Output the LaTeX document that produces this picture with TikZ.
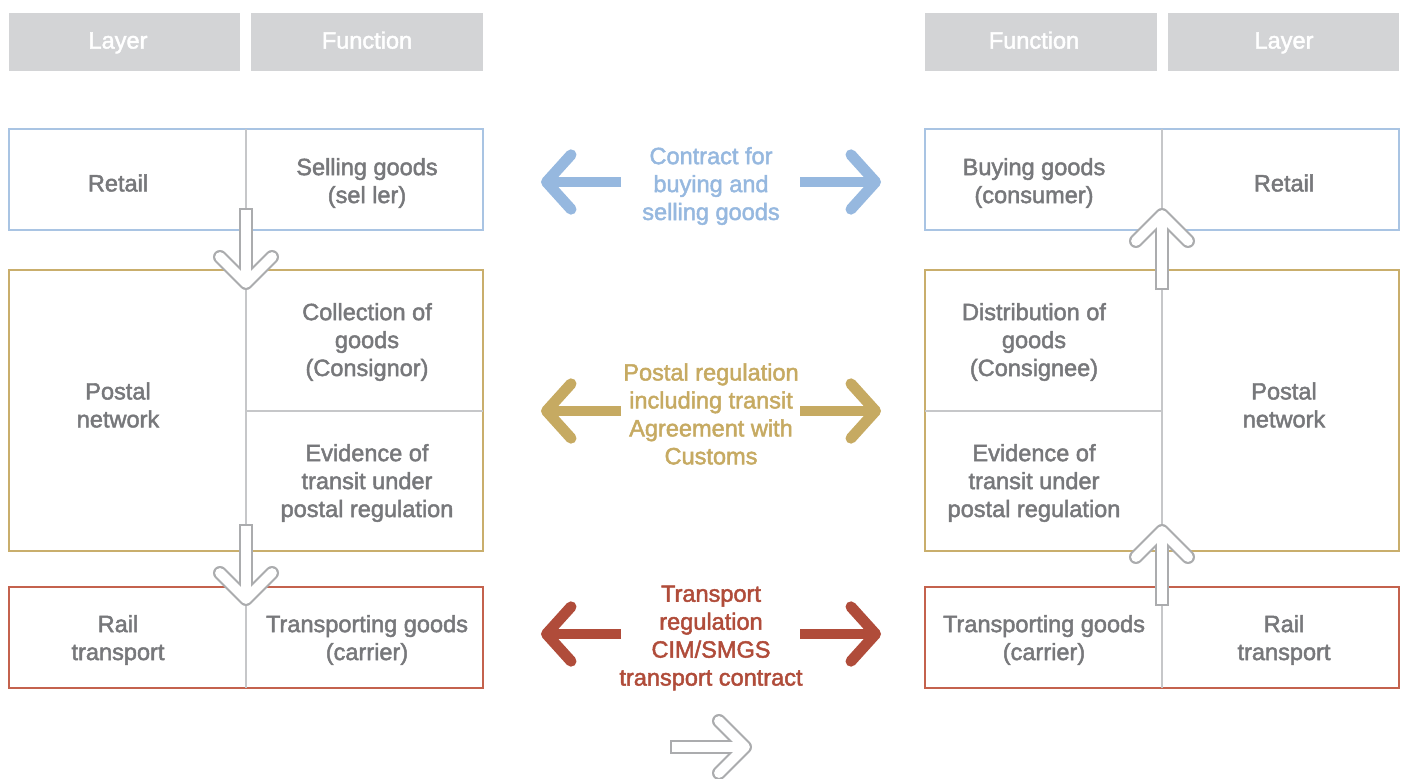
\documentclass[tikz,border=0pt]{standalone}
\usepackage{fontspec}
\setmainfont{Liberation Sans}[UprightFeatures={FakeBold=2}]
\usetikzlibrary{arrows.meta}

\definecolor{hdrgray}{HTML}{D3D4D6}
\definecolor{txtgray}{HTML}{77787B}
\definecolor{linegray}{HTML}{C6C7C9}
\definecolor{arrgray}{HTML}{ABACAE}
\definecolor{retailblue}{HTML}{A9C4E3}
\definecolor{postaltan}{HTML}{C9AE6C}
\definecolor{railred}{HTML}{C4624D}
\definecolor{bluelbl}{HTML}{96B8DF}
\definecolor{tanlbl}{HTML}{C6AA62}
\definecolor{redlbl}{HTML}{B04C3A}

\tikzset{
  txt/.style={text=txtgray, align=center, font=\fontsize{13.4}{15.9}\selectfont},
  hdrtxt/.style={text=white, text height=1.6ex, text depth=.4ex, font=\fontsize{13.4}{15.9}\selectfont},
  lbl/.style={align=center, font=\fontsize{13.4}{15.9}\selectfont},
  layerbox/.style={line width=1.5pt},
  divider/.style={draw=linegray, line width=1.3pt},
  twoway/.style={line width=6.2pt, -{Straight Barb[length=14pt, width=31pt, round]}},
  pics/hollowarrow/.style={code={
    \draw[arrgray, line width=8pt, line join=round, line cap=round] (-26,-26) -- (0,0) -- (-26,26);
    \draw[arrgray, line width=8pt] (-75,0) -- (0,0);
    \draw[white, line width=5.6pt, line join=round, line cap=round] (-26,-26) -- (0,0) -- (-26,26);
    \draw[white, line width=5.6pt] (-72.8,0) -- (0,0);
  }}
}

\begin{document}
\begin{tikzpicture}[x=0.02cm, y=-0.02cm]
  \useasboundingbox (0,0) rectangle (1407,778);

  % column headers
  \fill[hdrgray] (9,13) rectangle (240,71);
  \fill[hdrgray] (251,13) rectangle (483,71);
  \fill[hdrgray] (925,13) rectangle (1157,71);
  \fill[hdrgray] (1168,13) rectangle (1399,71);
  \node[hdrtxt] (hlayl) at (118,43) {Layer};
  \node[hdrtxt] (hfunl) at (367,43) {Function};
  \node[hdrtxt] (hfunr) at (1034,43) {Function};
  \node[hdrtxt] (hlayr) at (1284,43) {Layer};

  % layer boxes, left side
  \draw[layerbox, retailblue] (9,129) rectangle (483,230);
  \draw[layerbox, postaltan] (9,270) rectangle (483,551);
  \draw[layerbox, railred] (9,587) rectangle (483,688);
  \draw[divider] (246,411) -- (483,411);
  \draw[divider] (246,129) -- (246,688);

  % layer boxes, right side
  \draw[layerbox, retailblue] (925,129) rectangle (1399,230);
  \draw[layerbox, postaltan] (925,270) rectangle (1399,551);
  \draw[layerbox, railred] (925,587) rectangle (1399,688);
  \draw[divider] (925,411) -- (1162,411);
  \draw[divider] (1162,129) -- (1162,688);

  % texts, left side
  \node[txt] (retl) at (118,183) {Retail};
  \node[txt] (sell) at (367,183) {Selling goods\\(sel ler)};
  \node[txt] (postl) at (118,405) {Postal\\network};
  \node[txt] (coll) at (367,342) {Collection of\\goods\\(Consignor)};
  \node[txt] (evil) at (367,483) {Evidence of\\transit under\\postal regulation};
  \node[txt] (raill) at (118,640) {Rail\\transport};
  \node[txt] (trnl) at (367,640) {Transporting goods\\(carrier)};

  % texts, right side
  \node[txt] (buyr) at (1034,183) {Buying goods\\(consumer)};
  \node[txt] (retr) at (1284,183) {Retail};
  \node[txt] (disr) at (1034,342) {Distribution of\\goods\\(Consignee)};
  \node[txt] (evir) at (1034,483) {Evidence of\\transit under\\postal regulation};
  \node[txt] (postr) at (1284,405) {Postal\\network};
  \node[txt] (trnr) at (1044,640) {Transporting goods\\(carrier)};
  \node[txt] (railr) at (1284,640) {Rail\\transport};

  % agreements in the middle
  \node[lbl, text=bluelbl] (contract) at (711,186) {Contract for\\buying and\\selling goods};
  \node[lbl, text=tanlbl] (postreg) at (711,414) {Postal regulation\\including transit\\Agreement with\\Customs};
  \node[lbl, text=redlbl] (trnreg) at (711,638) {Transport\\regulation\\CIM/SMGS\\transport contract};

  \coordinate (bl0) at (621,182); \coordinate (bl1) at (541,182);
  \coordinate (br0) at (800,182); \coordinate (br1) at (881,182);
  \coordinate (tl0) at (621,411); \coordinate (tl1) at (541,411);
  \coordinate (tr0) at (800,411); \coordinate (tr1) at (881,411);
  \coordinate (rl0) at (621,634); \coordinate (rl1) at (541,634);
  \coordinate (rr0) at (800,634); \coordinate (rr1) at (881,634);
  \draw[twoway, bluelbl] (bl0) -- (bl1);
  \draw[twoway, bluelbl] (br0) -- (br1);
  \draw[twoway, tanlbl] (tl0) -- (tl1);
  \draw[twoway, tanlbl] (tr0) -- (tr1);
  \draw[twoway, redlbl] (rl0) -- (rl1);
  \draw[twoway, redlbl] (rr0) -- (rr1);

  % flow of goods
  \pic[rotate=-90] (dna) at (246,283) {hollowarrow};
  \pic[rotate=-90] (dnb) at (246,599) {hollowarrow};
  \pic[rotate=90] (upa) at (1162,215) {hollowarrow};
  \pic[rotate=90] (upb) at (1162,531) {hollowarrow};
  \pic (flow) at (745,747) {hollowarrow};
\end{tikzpicture}
\end{document}
